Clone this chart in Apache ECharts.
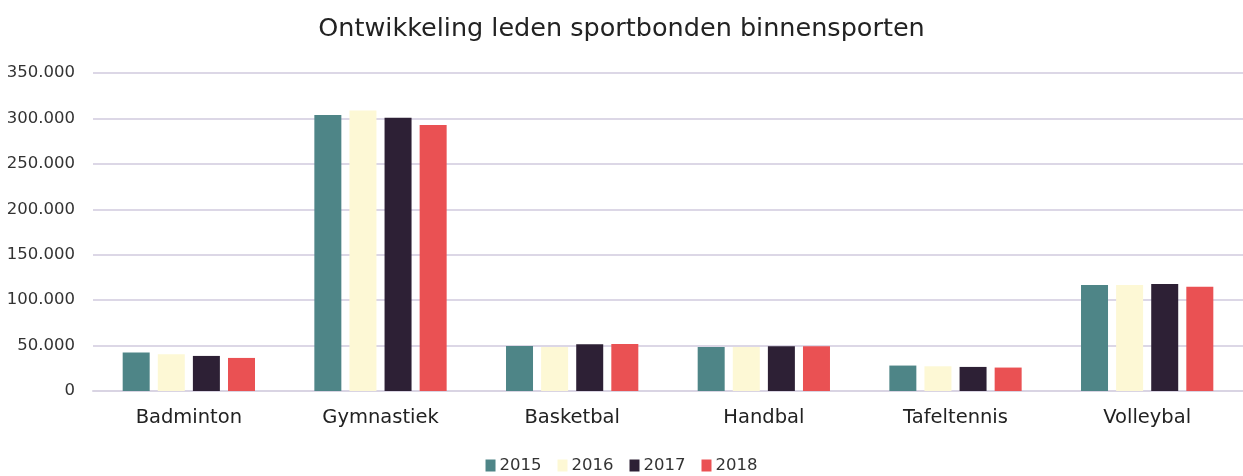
<!DOCTYPE html>
<html>
<head>
<meta charset="utf-8">
<script src="https://cdn.jsdelivr.net/npm/echarts@6/dist/echarts.min.js"></script>
<style>
  html, body { margin: 0; padding: 0; background: #fff; }
  #chart { width: 1243px; height: 476px; }
</style>
</head>
<body>
<div id="chart"></div>
<script>
  // sporten en jaren
  var categories = ['Badminton', 'Gymnastiek', 'Basketbal', 'Handbal', 'Tafeltennis', 'Volleybal'];
  var years = ['2015', '2016', '2017', '2018'];
  var colors = ['#4e8587', '#fdf8d5', '#2d2035', '#ea5153'];

  var leden2015 = [42400, 303700, 49600, 48500, 28000, 116600];
  var leden2016 = [40500, 308800, 48500, 48500, 27200, 116600];
  var leden2017 = [38600, 300800, 51500, 49300, 26500, 117700];
  var leden2018 = [36400, 292700, 51800, 49300, 25800, 114700];
  var ledenPerJaar = [leden2015, leden2016, leden2017, leden2018];

  var font = '"DejaVu Sans", sans-serif';

  function fmt(v) {
    return String(v).replace(/\B(?=(\d{3})+(?!\d))/g, '.');
  }

  var myChart = echarts.init(document.getElementById('chart'));
  myChart.setOption({
    animation: false,
    title: {
      text: 'Ontwikkeling leden sportbonden binnensporten',
      left: 'center',
      top: 11,
      textStyle: { fontFamily: font, fontSize: 25.5, fontWeight: 'normal', color: '#222' }
    },
    legend: {
      data: years,
      top: 452,
      left: 'center',
      itemWidth: 10,
      itemHeight: 12,
      itemGap: 16,
      icon: 'rect',
      textStyle: { fontFamily: font, fontSize: 16.5, color: '#333', padding: [0, 0, 0, -1] }
    },
    grid: { left: 93, top: 73, width: 1155, height: 318 },
    xAxis: {
      type: 'category',
      data: categories,
      axisTick: { show: false },
      axisLine: { lineStyle: { color: '#d9d4e3', width: 2 } },
      axisLabel: { fontFamily: font, fontSize: 19.5, color: '#222', margin: 17 }
    },
    yAxis: {
      type: 'value',
      min: 0,
      max: 350000,
      interval: 50000,
      axisLine: { show: false },
      axisTick: { show: false },
      splitLine: { lineStyle: { color: '#dcd7e6', width: 2 } },
      axisLabel: { fontFamily: font, fontSize: 16.5, color: '#333', margin: 18, formatter: fmt }
    },
    series: years.map(function (y, i) {
      return {
        name: y,
        type: 'bar',
        data: ledenPerJaar[i],
        barWidth: 27,
        barGap: '30%',
        itemStyle: { color: colors[i] }
      };
    })
  });
</script>
</body>
</html>
